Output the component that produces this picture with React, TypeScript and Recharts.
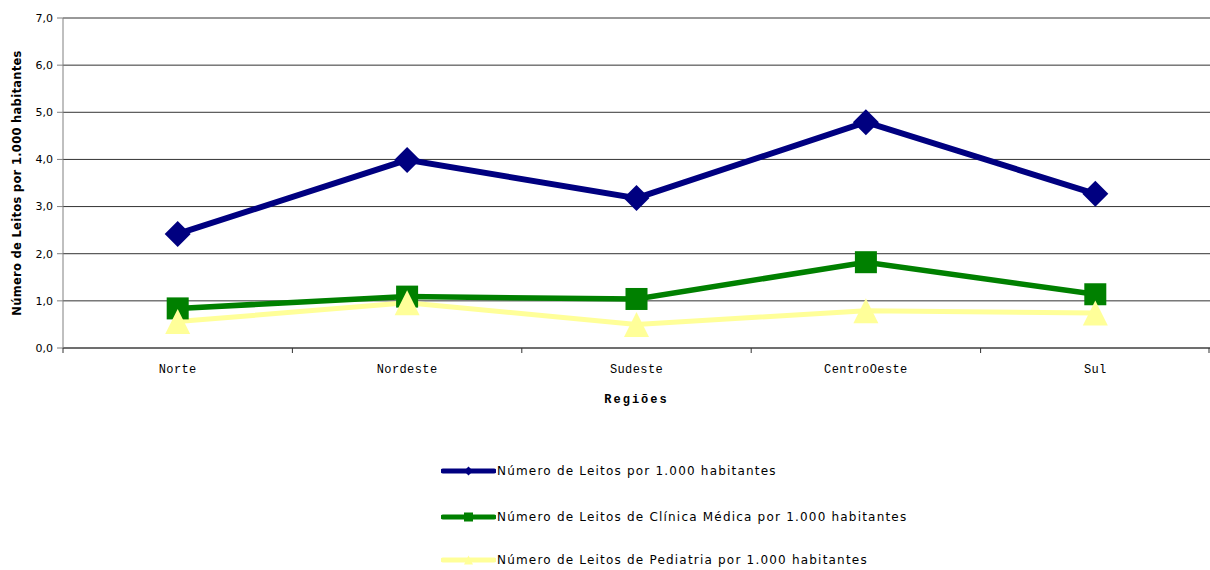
import { LineChart, Line, XAxis, YAxis, CartesianGrid, Legend } from 'recharts'

// leitos por 1.000 habitantes, por região
const regioes = ['Norte', 'Nordeste', 'Sudeste', 'CentroOeste', 'Sul']
const leitosTotal = [2.42, 3.99, 3.18, 4.79, 3.27]
const leitosClinica = [0.84, 1.09, 1.04, 1.82, 1.14]
const leitosPediatria = [0.56, 0.96, 0.5, 0.79, 0.74]
const yTicks = [0, 1, 2, 3, 4, 5, 6, 7]

const WIDTH = 1210
const HEIGHT = 570
const PLOT_LEFT = 63
const PLOT_BOTTOM = 348
const LEGEND_TOP = 455
const LEGEND_H = HEIGHT - LEGEND_TOP
const BAND = (WIDTH - PLOT_LEFT) / regioes.length

type Shape = 'diamond' | 'square' | 'triangle'

const series: { key: string; name: string; color: string; shape: Shape; width: number }[] = [
    { key: 'total', name: 'Número de Leitos por 1.000 habitantes', color: '#000080', shape: 'diamond', width: 6 },
    { key: 'clinica', name: 'Número de Leitos de Clínica Médica por 1.000 habitantes', color: '#008000', shape: 'square', width: 5.5 },
    { key: 'pediatria', name: 'Número de Leitos de Pediatria por 1.000 habitantes', color: '#FFFF99', shape: 'triangle', width: 5 },
]

const data = regioes.map((regiao, i) => ({
    regiao,
    total: leitosTotal[i],
    clinica: leitosClinica[i],
    pediatria: leitosPediatria[i],
}))

function marker(shape: Shape, cx: number, cy: number, r: number, color: string, key?: string) {
    if (shape === 'diamond') {
        return <polygon key={key} points={`${cx},${cy - r} ${cx + r},${cy} ${cx},${cy + r} ${cx - r},${cy}`} fill={color} />
    }
    if (shape === 'square') {
        return <rect key={key} x={cx - r} y={cy - r} width={r * 2} height={r * 2} fill={color} />
    }
    return <polygon key={key} points={`${cx},${cy - r} ${cx + r},${cy + r} ${cx - r},${cy + r}`} fill={color} />
}

const markerSize: Record<Shape, number> = { diamond: 13, square: 11, triangle: 12.5 }

function RegiaoTick(props: any) {
    const { x, payload, index } = props
    const left = x - BAND / 2
    return (
        <g>
            <line x1={left} y1={PLOT_BOTTOM} x2={left} y2={PLOT_BOTTOM + 5} stroke="#333" />
            {index === regioes.length - 1 && (
                <line x1={x + BAND / 2 - 1} y1={PLOT_BOTTOM} x2={x + BAND / 2 - 1} y2={PLOT_BOTTOM + 5} stroke="#333" />
            )}
            <text
                x={x}
                y={PLOT_BOTTOM + 25}
                textAnchor="middle"
                fontFamily="Liberation Mono"
                fontSize={12}
                letterSpacing={0.4}
                fill="#000"
            >
                {payload.value}
            </text>
        </g>
    )
}

function LegendaLeitos() {
    const rows = [471, 517, 560]
    return (
        <div style={{ position: 'relative', width: WIDTH, height: LEGEND_H }}>
            {series.map((s, i) => (
                <div
                    key={s.key}
                    style={{
                        position: 'absolute',
                        left: 441,
                        top: rows[i] - LEGEND_TOP - 8,
                        height: 16,
                        display: 'flex',
                        alignItems: 'center',
                        whiteSpace: 'nowrap',
                    }}
                >
                    <svg width={55} height={16} style={{ display: 'block' }}>
                        <line x1={2} y1={8} x2={53} y2={8} stroke={s.color} strokeWidth={5} strokeLinecap="round" />
                        {marker(s.shape, 27.5, 8, 4.5, s.color)}
                    </svg>
                    <span
                        style={{
                            fontFamily: 'DejaVu Sans',
                            fontSize: 12,
                            letterSpacing: 1.2,
                            color: '#000',
                            marginLeft: 1,
                        }}
                    >
                        {s.name}
                    </span>
                </div>
            ))}
        </div>
    )
}

export default function App() {
    return (
        <div style={{ position: 'absolute', left: 0, top: 0, width: WIDTH, height: HEIGHT, background: '#fff' }}>
            <LineChart
                width={WIDTH}
                height={HEIGHT}
                data={data}
                margin={{ top: 18, right: 0, left: 0, bottom: 0 }}
            >
                <CartesianGrid vertical={false} stroke="#333" strokeWidth={1} />
                <XAxis
                    dataKey="regiao"
                    height={HEIGHT - PLOT_BOTTOM - LEGEND_H}
                    padding={{ left: BAND / 2, right: BAND / 2 }}
                    stroke="#444"
                    tickLine={false}
                    tickSize={0}
                    tickMargin={0}
                    interval={0}
                    tick={<RegiaoTick />}
                    label={{
                        content: ({ viewBox }: any) => (
                            <text
                                x={viewBox.x + viewBox.width / 2}
                                y={PLOT_BOTTOM + 55}
                                textAnchor="middle"
                                fontFamily="Liberation Mono"
                                fontWeight="bold"
                                fontSize={12}
                                letterSpacing={2}
                                fill="#000"
                            >
                                Regiões
                            </text>
                        ),
                    }}
                />
                <YAxis
                    width={PLOT_LEFT}
                    domain={[0, 7]}
                    ticks={yTicks}
                    interval={0}
                    stroke="#808080"
                    tickSize={6}
                    tickMargin={4}
                    tickFormatter={(v: number) => v.toFixed(1).replace('.', ',')}
                    tick={{ fontFamily: 'DejaVu Sans', fontSize: 11, fill: '#000' }}
                    label={{
                        content: ({ viewBox }: any) => {
                            const cy = viewBox.y + viewBox.height / 2
                            return (
                                <text
                                    transform={`translate(21, ${cy}) rotate(-90)`}
                                    textAnchor="middle"
                                    fontFamily="DejaVu Sans"
                                    fontWeight="bold"
                                    fontSize={11.5}
                                    letterSpacing={0.3}
                                    fill="#000"
                                >
                                    Número de Leitos por 1.000 habitantes
                                </text>
                            )
                        },
                    }}
                />
                <Legend
                    layout="vertical"
                    align="center"
                    verticalAlign="bottom"
                    wrapperStyle={{ position: 'absolute', top: LEGEND_TOP, left: 0, width: WIDTH, height: LEGEND_H, bottom: 'auto' }}
                    content={() => <LegendaLeitos />}
                />
                {series.map((s) => (
                    <Line
                        key={s.key}
                        type="linear"
                        dataKey={s.key}
                        name={s.name}
                        stroke={s.color}
                        strokeWidth={s.width}
                        isAnimationActive={false}
                        dot={(p: any) => marker(s.shape, p.cx, p.cy, markerSize[s.shape], s.color, `${s.key}-${p.index}`)}
                        activeDot={false}
                    />
                ))}
            </LineChart>
        </div>
    )
}
